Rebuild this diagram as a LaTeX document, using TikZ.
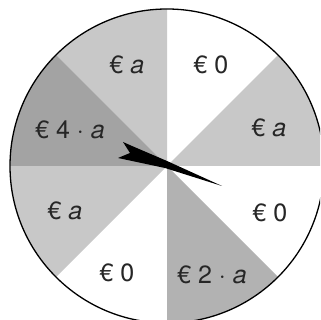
\documentclass[tikz,border=0pt]{standalone}
\usepackage{fontspec}
\setmainfont{TeX Gyre Heros}
\definecolor{lightg}{HTML}{C8C8C8}
\definecolor{midg}{HTML}{B2B2B2}
\definecolor{darkg}{HTML}{A3A3A3}
\begin{document}
\begin{tikzpicture}[x=1pt,y=1pt,
  lbl/.style={font=\fontsize{25}{25}\selectfont, text=black!85, inner sep=0pt},
  sector/.style={}]
\useasboundingbox (0,0) rectangle (320,320);
\clip (0,0) rectangle (320,320);
\coordinate (c) at (167,154);
\def\R{157}
\fill[white] (c) circle (\R);
\fill[lightg, sector] (c) -- ++(90:\R) arc (90:135:\R) -- cycle;
\fill[lightg, sector] (c) -- ++(0:\R) arc (0:45:\R) -- cycle;
\fill[midg, sector] (c) -- ++(-90:\R) arc (-90:-45:\R) -- cycle;
\fill[lightg, sector] (c) -- ++(180:\R) arc (180:225:\R) -- cycle;
\fill[darkg, sector] (c) -- ++(135:\R) arc (135:180:\R) -- cycle;
\draw[black, line width=1.3pt] (c) circle (\R);
\node[lbl] (s1) at (127,255) {€ \itshape a};
\node[lbl] (s2) at (211,255) {€ 0};
\node[lbl] (s3) at (269,192) {€ \itshape a};
\node[lbl] (s4) at (270,107) {€ 0};
\node[lbl] (s5) at (212,45) {€ 2 · \itshape a};
\node[lbl] (s6) at (117,47) {€ 0};
\node[lbl] (s7) at (65,109) {€ \itshape a};
\node[lbl] (s8) at (70,190) {€ 4 · \itshape a};
\coordinate (tip) at (222,134);
\fill[black] (tip) -- (167,159) -- (132,174) -- (123,178) -- (130,167) -- (118,162) -- (165,152) -- cycle;
\end{tikzpicture}
\end{document}
